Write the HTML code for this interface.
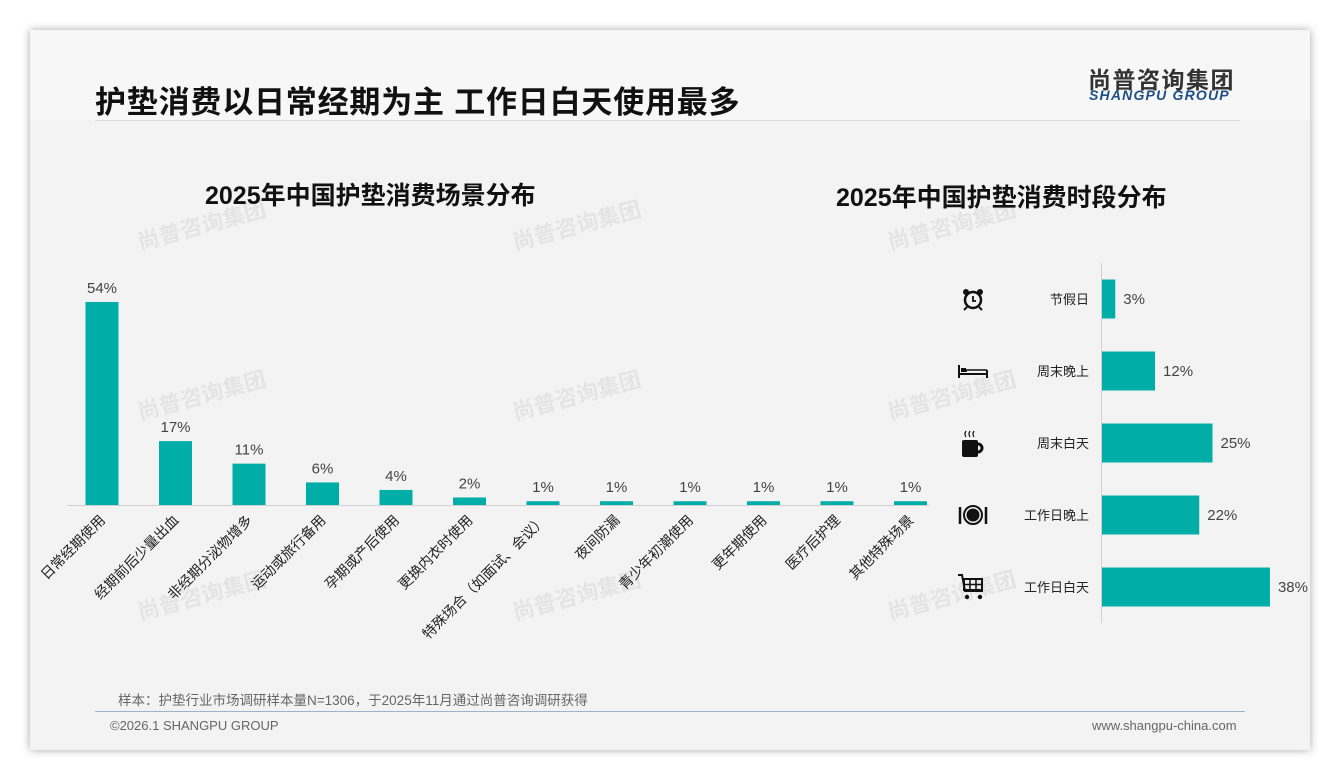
<!DOCTYPE html>
<html><head><meta charset="utf-8"><style>
body{margin:0;width:1340px;height:780px;background:#fff;font-family:"Liberation Sans","Noto Sans CJK SC",sans-serif;overflow:hidden;position:relative}
#card{position:absolute;left:30px;top:30px;width:1280px;height:720px;background:#f3f3f3;box-shadow:0 0 8px rgba(0,0,0,.35)}
.abs{position:absolute}
</style></head><body>
<div id="card"></div>
<div class="abs" style="left:30px;top:30px;width:1280px;height:90px;background:#f7f7f7"></div>
<div class="abs" style="left:95px;top:77px;font-size:31px;font-weight:bold;color:#111;letter-spacing:0.8px">护垫消费以日常经期为主 工作日白天使用最多</div>
<div class="abs" style="left:1088px;top:61px;font-size:23px;font-weight:bold;color:#333;letter-spacing:1.5px">尚普咨询集团</div>
<div class="abs" style="left:1089px;top:87px;font-size:14px;font-weight:bold;font-style:italic;color:#1d4f86;letter-spacing:1.2px">SHANGPU GROUP</div>
<div class="abs" style="left:95px;top:120px;width:1145px;height:1px;background:#ddd"></div>
<div class="abs" style="left:205px;top:176px;font-size:25px;font-weight:bold;color:#111">2025年中国护垫消费场景分布</div>
<div class="abs" style="left:836px;top:178px;font-size:25px;font-weight:bold;color:#111">2025年中国护垫消费时段分布</div>
<svg class="abs" style="left:0;top:0" width="1340" height="780" id="svg"></svg>
<div class="abs" style="left:118px;top:689px;font-size:13.5px;color:#666">样本：护垫行业市场调研样本量N=1306，于2025年11月通过尚普咨询调研获得</div>
<div class="abs" style="left:95px;top:711px;width:1150px;height:1px;background:#9bb4cc"></div>
<div class="abs" style="left:110px;top:718px;font-size:13px;color:#666">©2026.1 SHANGPU GROUP</div>
<div class="abs" style="left:1092px;top:718px;font-size:13px;color:#666">www.shangpu-china.com</div>
<script>
const sceneCats=["日常经期使用","经期前后少量出血","非经期分泌物增多","运动或旅行备用","孕期或产后使用","更换内衣时使用","特殊场合（如面试、会议）","夜间防漏","青少年初潮使用","更年期使用","医疗后护理","其他特殊场景"];
const sceneVals=[54,17,11,6,4,2,1,1,1,1,1,1];
const timeCats=["节假日","周末晚上","周末白天","工作日晚上","工作日白天"];
const timeVals=[3,12,25,22,38];
const NS="http://www.w3.org/2000/svg";
const svg=document.getElementById('svg');
function mk(t,a,txt,parent){const e=document.createElementNS(NS,t);for(const k in a)e.setAttribute(k,a[k]);if(txt!==undefined&&txt!==null)e.textContent=txt;(parent||svg).appendChild(e);return e;}
const C="#00ada7";
[[140,250],[515,250],[890,250],[140,420],[515,420],[890,420],[140,620],[515,620],[890,620]].forEach(p=>{
const w=mk('text',{x:p[0],y:p[1],fill:'#000','fill-opacity':0.06,'font-size':22,'font-weight':'bold',transform:`rotate(-15 ${p[0]} ${p[1]})`},'尚普咨询集团');


});
const x0=67,x1=930,base=505,step=73.5,bw=33,ppu=3.76;
const xs=i=>102+i*step, ys=v=>base-v*ppu;
const ax=mk('line',{x1:x0,x2:x1,y1:base+0.5,y2:base+0.5,stroke:'#d0d0d0'});


sceneVals.forEach((v,i)=>{
const r=mk('rect',{x:xs(i)-bw/2,y:ys(v),width:bw,height:base-ys(v),fill:C});


const l=mk('text',{x:xs(i),y:ys(v)-9,'text-anchor':'middle','font-size':15,fill:'#444'},v+'%');


const cx=xs(i)+4,cy=base+16;
const c=mk('text',{x:cx,y:cy,'text-anchor':'end','font-size':14,fill:'#222',transform:`rotate(-45 ${cx} ${cy})`},sceneCats[i]);


});
const ax0=1101,rowH=72,y0=299,bh=39,ppu2=4.42;
const ry=i=>y0+i*rowH, rx=v=>v*ppu2;
const ay=mk('line',{x1:ax0+0.5,x2:ax0+0.5,y1:263,y2:623,stroke:'#d0d0d0'});


const iconSvgs=[
'<circle cx="0" cy="1" r="8" fill="none" stroke="#111" stroke-width="2.5"/><path d="M0 -3V2H3" stroke="#111" stroke-width="1.8" fill="none"/><circle cx="-7" cy="-7" r="3" fill="#111"/><circle cx="7" cy="-7" r="3" fill="#111"/><path d="M-6 8l-3 3M6 8l3 3" stroke="#111" stroke-width="2"/>',
'<path d="M-14 -6V7M14 -1V7M-14 3H14" stroke="#111" stroke-width="2" fill="none"/><rect x="-12" y="-3" width="5" height="4" fill="#111"/><path d="M-7 1V-1H14" stroke="#111" stroke-width="1.5" fill="none"/>',
'<rect x="-11" y="-3" width="16" height="17" rx="2" fill="#111"/><path d="M5 1a4 4 0 0 1 0 8" stroke="#111" stroke-width="3" fill="none"/><path d="M-7 -6q-2 -3 0 -6M-3 -6q-2 -3 0 -6M1 -6q-2 -3 0 -6" stroke="#111" stroke-width="1.2" fill="none"/>',
'<circle cx="0" cy="0" r="9" fill="none" stroke="#111" stroke-width="2"/><circle cx="0" cy="0" r="6.5" fill="#111"/><path d="M-13 -8V9M13 -8V9" stroke="#111" stroke-width="2.5"/>',
'<path d="M-15 -12h4l3 16h18" stroke="#111" stroke-width="2" fill="none"/><rect x="-9" y="-8" width="18" height="11" fill="none" stroke="#111" stroke-width="2"/><path d="M-9 -2.5H9M-3 -8V3M3 -8V3" stroke="#111" stroke-width="1.5"/><circle cx="-6" cy="10" r="2.2" fill="#111"/><circle cx="7" cy="10" r="2.2" fill="#111"/>'
];
timeVals.forEach((v,i)=>{
const r=mk('rect',{x:ax0+1,y:ry(i)-bh/2,width:rx(v),height:bh,fill:C});


const l=mk('text',{x:ax0+rx(v)+9,y:ry(i)+5,'font-size':15,fill:'#444'},v+'%');


const c=mk('text',{x:1089,y:ry(i)+5,'text-anchor':'end','font-size':13,fill:'#222'},timeCats[i]);


const g=mk('g',{transform:`translate(973 ${ry(i)})`});
g.innerHTML=iconSvgs[i];


});
</script>
</body></html>
